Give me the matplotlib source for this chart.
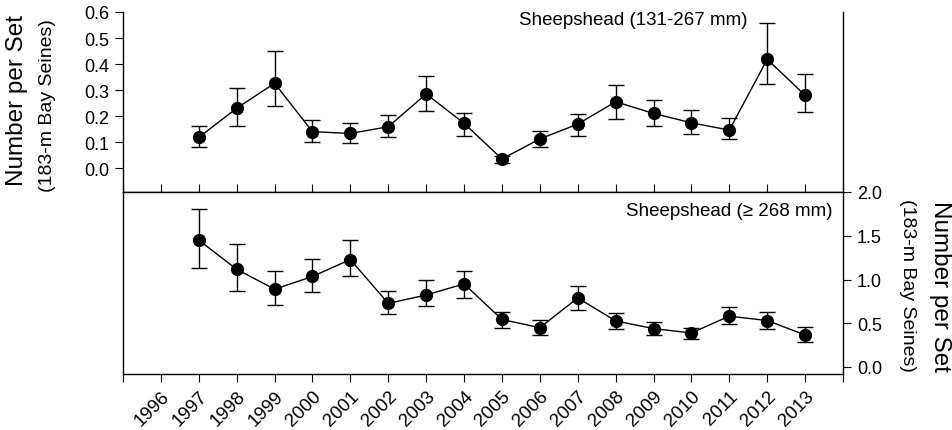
import numpy as np
import matplotlib.pyplot as plt

plt.rcParams['font.family'] = ['Liberation Sans', 'DejaVu Sans']

years = np.arange(1997, 2014)

# Sheepshead 131-267 mm
small_mean = [0.118, 0.230, 0.326, 0.140, 0.133, 0.159, 0.285, 0.172, 0.035,
              0.112, 0.169, 0.255, 0.210, 0.174, 0.146, 0.418, 0.280]
small_low = [0.082, 0.160, 0.240, 0.099, 0.096, 0.118, 0.219, 0.124, 0.019,
             0.082, 0.124, 0.188, 0.160, 0.131, 0.112, 0.322, 0.217]
small_high = [0.163, 0.307, 0.449, 0.186, 0.173, 0.205, 0.355, 0.210, 0.047,
              0.143, 0.208, 0.320, 0.263, 0.224, 0.192, 0.556, 0.360]

# Sheepshead >= 268 mm
large_mean = [1.450, 1.117, 0.889, 1.035, 1.228, 0.727, 0.823, 0.950, 0.543,
              0.450, 0.789, 0.527, 0.439, 0.389, 0.581, 0.531, 0.366]
large_low = [1.130, 0.870, 0.710, 0.855, 1.035, 0.604, 0.696, 0.785, 0.447,
             0.370, 0.647, 0.440, 0.362, 0.315, 0.489, 0.435, 0.285]
large_high = [1.805, 1.410, 1.100, 1.235, 1.455, 0.866, 0.993, 1.100, 0.631,
              0.535, 0.927, 0.620, 0.512, 0.447, 0.689, 0.624, 0.458]

tick_years = np.arange(1995, 2015)
tick_labels = [str(y) if 1996 <= y <= 2013 else '' for y in tick_years]

fig = plt.figure(figsize=(9.53, 4.31), dpi=100)
ax1 = fig.add_axes([123/953, 1 - 193/431, 720/953, 180/431])
ax2 = fig.add_axes([123/953, 1 - 375/431, 720/953, 182/431])


def draw(ax, mean, low, high):
    mean = np.array(mean)
    err = [mean - np.array(low), np.array(high) - mean]
    ax.errorbar(years, mean, yerr=err, fmt='o-', color='black', ms=8.5,
                lw=1, elinewidth=1, capsize=6, capthick=1)
    ax.set_xlim(1995, 2014)
    ax.set_xticks(tick_years)


draw(ax1, small_mean, small_low, small_high)
draw(ax2, large_mean, large_low, large_high)

# top panel
ax1.set_ylim(-0.092, 0.6)
ax1.set_yticks(np.arange(0, 0.61, 0.1))
ax1.set_yticklabels(['%.1f' % v for v in np.arange(0, 0.61, 0.1)])
ax1.spines['top'].set_visible(False)
ax1.tick_params(axis='x', direction='in', length=6, labelbottom=False)
ax1.tick_params(axis='y', direction='out', length=6, pad=4, labelsize=13)
ax1.text(0.868, 0.958, 'Sheepshead (131-267 mm)', transform=ax1.transAxes,
         ha='right', va='center', fontsize=13.5)

# bottom panel
ax2.set_ylim(-0.08, 2.0)
ax2.yaxis.tick_right()
ax2.set_yticks(np.arange(0, 2.01, 0.5))
ax2.set_yticklabels(['%.1f' % v for v in np.arange(0, 2.01, 0.5)])
ax2.tick_params(axis='y', direction='out', length=6, pad=4, labelsize=13)
ax2.tick_params(axis='x', direction='out', length=6, labelsize=13.5)
ax2.set_xticklabels(tick_labels, rotation=45, ha='right', rotation_mode='anchor')
ax2.text(0.985, 0.897, 'Sheepshead (\u2265 268 mm)', transform=ax2.transAxes,
         ha='right', va='center', fontsize=13.5)

for ax in (ax1, ax2):
    for s in ax.spines.values():
        s.set_linewidth(1)

fig.text(17/953, 1 - 100/431, 'Number per Set', rotation=90,
         ha='center', va='center', fontsize=17.5)
fig.text(48/953, 1 - 106/431, '(183-m Bay Seines)', rotation=90,
         ha='center', va='center', fontsize=14)
fig.text(940/953, 1 - 287/431, 'Number per Set', rotation=270,
         ha='center', va='center', fontsize=17.5)
fig.text(908/953, 1 - 285/431, '(183-m Bay Seines)', rotation=270,
         ha='center', va='center', fontsize=14)

fig.savefig('out.png', dpi=100)
